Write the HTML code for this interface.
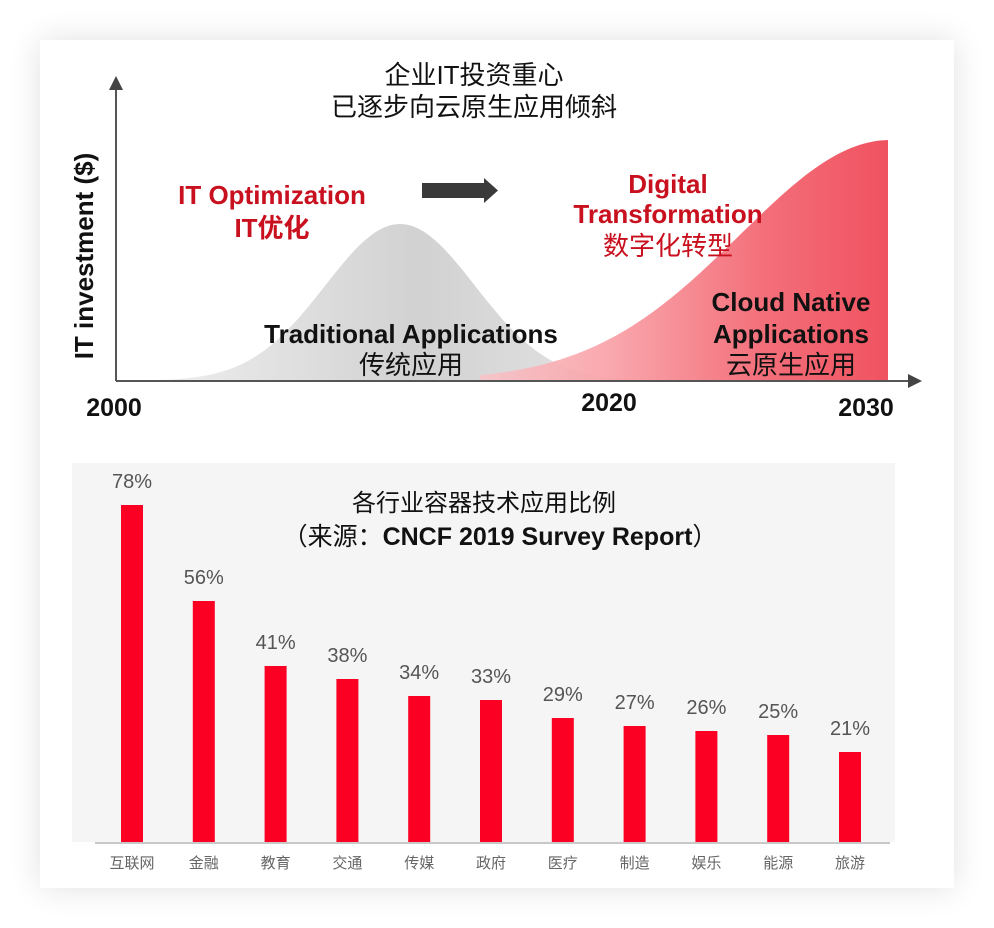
<!DOCTYPE html>
<html><head><meta charset="utf-8"><style>
html,body{margin:0;padding:0;background:#fff;}
body{width:994px;height:928px;overflow:hidden;position:relative;font-family:"Liberation Sans","Noto Sans CJK SC",sans-serif;}
.card{position:absolute;left:40px;top:40px;width:914px;height:848px;background:#fff;box-shadow:0 0 30px rgba(0,0,0,0.12);}
svg{position:absolute;left:0;top:0;}
</style></head><body>
<div class="card"></div>
<svg width="994" height="928" viewBox="0 0 994 928" font-family="Liberation Sans, Noto Sans CJK SC, sans-serif">
<defs>
<linearGradient id="gg2" x1="0" y1="0" x2="1" y2="0">
<stop offset="0" stop-color="#f2f2f2"/><stop offset="0.5" stop-color="#cfcfcf"/><stop offset="1" stop-color="#ececec"/>
</linearGradient>
<linearGradient id="rg" x1="0" y1="0" x2="1" y2="0">
<stop offset="0" stop-color="#f7c4c8"/><stop offset="0.3" stop-color="#f9a3a9"/><stop offset="0.7" stop-color="#f2626e"/><stop offset="1" stop-color="#ef4352"/>
</linearGradient>
</defs>
<path id="gray" fill="url(#gg2)" opacity="0.95"/>
<path id="red" fill="url(#rg)" opacity="0.92"/>
<line x1="116" y1="86" x2="116" y2="381" stroke="#555" stroke-width="2"/>
<polygon points="116,76 109,90 123,90" fill="#444"/>
<line x1="116" y1="381" x2="910" y2="381" stroke="#555" stroke-width="2"/>
<polygon points="922,381 908,374 908,388" fill="#444"/>
<text x="474" y="84" font-size="26" text-anchor="middle" fill="#111">企业IT投资重心</text>
<text x="474" y="116" font-size="26" text-anchor="middle" fill="#111">已逐步向云原生应用倾斜</text>
<text x="272" y="204" font-size="26" font-weight="bold" text-anchor="middle" fill="#c8101e">IT Optimization</text>
<text x="272" y="237" font-size="26" font-weight="bold" text-anchor="middle" fill="#c8101e">IT优化</text>
<rect x="422" y="183" width="62" height="15" fill="#3a3a3a"/>
<polygon points="484,178 498,190.5 484,203" fill="#3a3a3a"/>
<text x="668" y="193" font-size="26" font-weight="bold" text-anchor="middle" fill="#c8101e">Digital</text>
<text x="668" y="223" font-size="26" font-weight="bold" text-anchor="middle" fill="#c8101e">Transformation</text>
<text x="668" y="255" font-size="26" text-anchor="middle" fill="#c8101e">数字化转型</text>
<text x="791" y="311" font-size="26" font-weight="bold" text-anchor="middle" fill="#111">Cloud Native</text>
<text x="791" y="343" font-size="26" font-weight="bold" text-anchor="middle" fill="#111">Applications</text>
<text x="791" y="374" font-size="26" text-anchor="middle" fill="#111">云原生应用</text>
<text x="411" y="343" font-size="26" font-weight="bold" text-anchor="middle" fill="#111">Traditional Applications</text>
<text x="411" y="374" font-size="26" text-anchor="middle" fill="#111">传统应用</text>
<text x="114" y="416" font-size="25" font-weight="bold" text-anchor="middle" fill="#111">2000</text>
<text x="609" y="411" font-size="25" font-weight="bold" text-anchor="middle" fill="#111">2020</text>
<text x="866" y="416" font-size="25" font-weight="bold" text-anchor="middle" fill="#111">2030</text>
<text transform="translate(93,256) rotate(-90)" font-size="26" font-weight="bold" text-anchor="middle" fill="#111">IT investment ($)</text>
<rect x="72" y="463" width="823" height="379" fill="#f5f5f5"/>
<line x1="95" y1="843" x2="890" y2="843" stroke="#c8c8c8" stroke-width="2"/>
<text x="484" y="511" font-size="24" text-anchor="middle" fill="#111">各行业容器技术应用比例</text>
<text x="500" y="545" font-size="25" font-weight="bold" text-anchor="middle" fill="#111"><tspan font-weight="normal">（来源：</tspan>CNCF 2019 Survey Report<tspan font-weight="normal">）</tspan></text>
<g id="bars"></g>
</svg>
<script>
var g=document.getElementById('gray'),d='M116,381';
for(var x=116;x<=720;x+=4){var y=381-157*Math.exp(-Math.pow(x-400,2)/(2*75*75));d+=' L'+x+','+y.toFixed(1);}
d+=' L720,381 Z';g.setAttribute('d',d);
var r=document.getElementById('red');d='M480,381';
for(var x=480;x<=888;x+=4){var y=381-241*Math.exp(-Math.pow(x-890,2)/(2*150*150));d+=' L'+x+','+y.toFixed(1);}
d+=' L888,381 Z';r.setAttribute('d',d);
var data=[['互联网',78,505],['金融',56,601],['教育',41,666],['交通',38,679],['传媒',34,696],['政府',33,700],['医疗',29,718],['制造',27,726],['娱乐',26,731],['能源',25,735],['旅游',21,752]];
var s='';
data.forEach(function(e,i){var cx=132+i*71.8;
s+='<rect x="'+(cx-11)+'" y="'+e[2]+'" width="22" height="'+(842-e[2])+'" fill="#fb0022"/>';
s+='<text x="'+cx+'" y="'+(e[2]-17)+'" font-size="20" text-anchor="middle" fill="#555">'+e[1]+'%</text>';
s+='<text x="'+cx+'" y="868" font-size="15" text-anchor="middle" fill="#666">'+e[0]+'</text>';});
document.getElementById('bars').innerHTML=s;
</script>
</body></html>
